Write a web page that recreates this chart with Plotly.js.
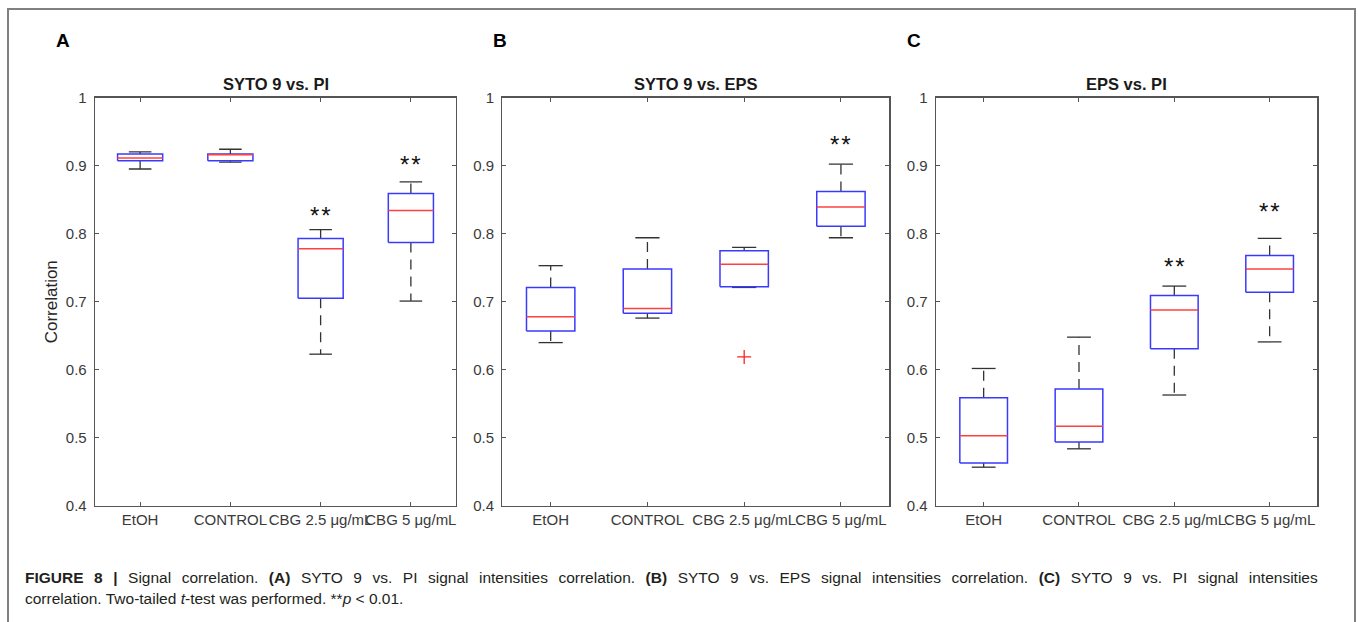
<!DOCTYPE html>
<html>
<head>
<meta charset="utf-8">
<script src="https://cdn.plot.ly/plotly-3.0.1.min.js"></script>
<style>html,body{margin:0;padding:0;background:#fff;}#chart{width:1358px;height:622px;}</style>
</head>
<body>
<div id="chart"></div>
<script>
// ---- Data ----
const categories = ['EtOH', 'CONTROL', 'CBG 2.5 μg/mL', 'CBG 5 μg/mL'];
const yTickVals = [0.4, 0.5, 0.6, 0.7, 0.8, 0.9, 1];

const panelTitles = ['SYTO 9 vs. PI', 'SYTO 9 vs. EPS', 'EPS vs. PI'];
const panelLetters = ['A', 'B', 'C'];

// Panel A: SYTO 9 vs. PI
const A_lower = [0.895, 0.905, 0.623, 0.701];
const A_q1    = [0.907, 0.907, 0.705, 0.787];
const A_med   = [0.911, 0.916, 0.778, 0.834];
const A_q3    = [0.917, 0.917, 0.793, 0.859];
const A_upper = [0.920, 0.924, 0.806, 0.876];
const A_sigY  = [null, null, 0.831, 0.905];   // "**" label level
const A_outX  = [];
const A_outY  = [];

// Panel B: SYTO 9 vs. EPS
const B_lower = [0.640, 0.676, 0.721, 0.794];
const B_q1    = [0.657, 0.683, 0.722, 0.811];
const B_med   = [0.678, 0.690, 0.755, 0.839];
const B_q3    = [0.721, 0.748, 0.775, 0.862];
const B_upper = [0.753, 0.794, 0.780, 0.902];
const B_sigY  = [null, null, null, 0.935];
const B_outX  = ['CBG 2.5 μg/mL'];
const B_outY  = [0.619];

// Panel C: EPS vs. PI
const C_lower = [0.457, 0.484, 0.563, 0.641];
const C_q1    = [0.463, 0.494, 0.631, 0.714];
const C_med   = [0.503, 0.517, 0.688, 0.748];
const C_q3    = [0.559, 0.572, 0.709, 0.768];
const C_upper = [0.602, 0.648, 0.723, 0.793];
const C_sigY  = [null, null, 0.755, 0.836];
const C_outX  = [];
const C_outY  = [];

const captionWords1 = ['<b>FIGURE', '8', '|</b>', 'Signal', 'correlation.', '<b>(A)</b>', 'SYTO', '9', 'vs.', 'PI', 'signal', 'intensities', 'correlation.', '<b>(B)</b>', 'SYTO', '9', 'vs.', 'EPS', 'signal', 'intensities', 'correlation.', '<b>(C)</b>', 'SYTO', '9', 'vs.', 'PI', 'signal', 'intensities'];
const captionLine2 = 'correlation. Two-tailed <i>t</i>-test was performed. **<i>p</i> &lt; 0.01.';

// ---- Build figure ----
const W = 1358, H = 622;
const FONT = 'Liberation Sans, Arial, Helvetica, sans-serif';
const BOX_HALF = 0.25, CAP_HALF = 0.125;

const panels = [
  {lower: A_lower, q1: A_q1, med: A_med, q3: A_q3, upper: A_upper, sigY: A_sigY, outX: A_outX, outY: A_outY},
  {lower: B_lower, q1: B_q1, med: B_med, q3: B_q3, upper: B_upper, sigY: B_sigY, outX: B_outX, outY: B_outY},
  {lower: C_lower, q1: C_q1, med: C_med, q3: C_q3, upper: C_upper, sigY: C_sigY, outX: C_outX, outY: C_outY}
];

// pixel layout of plot areas
const pxX = [[95, 456], [502.3, 889.3], [936, 1317.3]];
const pxTop = 97.5, pxBottom = 506;
const yDom = [1 - pxBottom / H, 1 - pxTop / H];

const traces = [];
const layout = {
  width: W, height: H, autosize: false,
  margin: {l: 0, r: 0, t: 0, b: 0},
  paper_bgcolor: '#ffffff', plot_bgcolor: '#ffffff',
  showlegend: false,
  font: {family: FONT, color: '#333333'},
  annotations: [], shapes: []
};

panels.forEach((p, k) => {
  const xa = 'x' + (k === 0 ? '' : k + 1);
  const ya = 'y' + (k === 0 ? '' : k + 1);
  const wX = [], wY = [], cX = [], cY = [], bX = [], bY = [], mX = [], mY = [];
  categories.forEach((c, i) => {
    const x = i + 1;
    wX.push(x, x, null, x, x, null);
    wY.push(p.q3[i], p.upper[i], null, p.q1[i], p.lower[i], null);
    cX.push(x - CAP_HALF, x + CAP_HALF, null, x - CAP_HALF, x + CAP_HALF, null);
    cY.push(p.upper[i], p.upper[i], null, p.lower[i], p.lower[i], null);
    bX.push(x - BOX_HALF, x + BOX_HALF, x + BOX_HALF, x - BOX_HALF, x - BOX_HALF, null);
    bY.push(p.q1[i], p.q1[i], p.q3[i], p.q3[i], p.q1[i], null);
    mX.push(x - BOX_HALF, x + BOX_HALF, null);
    mY.push(p.med[i], p.med[i], null);
    if (p.sigY[i] !== null) {
      layout.annotations.push({
        xref: xa, yref: ya, x: x, y: p.sigY[i], text: '*\u200A*', showarrow: false,
        yanchor: 'middle', yshift: -2.5, font: {family: FONT, size: 24, color: '#111'}
      });
    }
  });
  traces.push({type: 'scatter', mode: 'lines', x: wX, y: wY, xaxis: xa, yaxis: ya,
    line: {color: '#333333', width: 1.3, dash: '10px,7px'}, hoverinfo: 'skip'});
  traces.push({type: 'scatter', mode: 'lines', x: cX, y: cY, xaxis: xa, yaxis: ya,
    line: {color: '#333333', width: 1.3}, hoverinfo: 'skip'});
  traces.push({type: 'scatter', mode: 'lines', x: bX, y: bY, xaxis: xa, yaxis: ya,
    line: {color: '#3a3aff', width: 1.5}, hoverinfo: 'skip'});
  traces.push({type: 'scatter', mode: 'lines', x: mX, y: mY, xaxis: xa, yaxis: ya,
    line: {color: '#ff4040', width: 1.5}, hoverinfo: 'skip'});
  if (p.outX.length) {
    traces.push({type: 'scatter', mode: 'markers',
      x: p.outX.map(c => categories.indexOf(c) + 1), y: p.outY, xaxis: xa, yaxis: ya,
      marker: {symbol: 'cross-thin-open', size: 10, color: '#ff2020', line: {color: '#ff2020', width: 1.3}},
      hoverinfo: 'skip'});
  }

  const xKey = 'xaxis' + (k === 0 ? '' : k + 1);
  const yKey = 'yaxis' + (k === 0 ? '' : k + 1);
  layout[xKey] = {
    domain: [pxX[k][0] / W, pxX[k][1] / W], anchor: ya,
    range: [0.5, 4.5], tickmode: 'array', tickvals: categories.map((c, i) => i + 1), ticktext: categories,
    tickangle: 0, ticks: 'inside', ticklen: 4, tickwidth: 1, tickcolor: '#555555',
    showline: true, linecolor: '#555555', linewidth: 1.3, mirror: 'ticks',
    showgrid: false, zeroline: false, fixedrange: true,
    tickfont: {family: FONT, size: 15, color: '#3a3a3a'}
  };
  layout[yKey] = {
    domain: yDom, anchor: xa,
    range: [0.4, 1], tickmode: 'array', tickvals: yTickVals, ticktext: yTickVals.map(v => String(v)),
    ticks: 'inside', ticklen: 4, tickwidth: 1, tickcolor: '#555555',
    showline: true, linecolor: '#555555', linewidth: 1.3, mirror: 'ticks',
    showgrid: false, zeroline: false, fixedrange: true, ticklabelstandoff: 4,
    tickfont: {family: FONT, size: 15, color: '#3a3a3a'}
  };
  if (k === 0) {
    layout[yKey].title = {text: 'Correlation', standoff: 4, font: {family: FONT, size: 17, color: '#262626'}};
  }
  // panel title
  layout.annotations.push({
    xref: xa + ' domain', yref: 'paper', x: 0.5, y: 1 - 83.5 / H, xanchor: 'center', yanchor: 'middle',
    text: '<b>' + panelTitles[k] + '</b>', showarrow: false, font: {family: FONT, size: 16.5, color: '#1a1a1a'}
  });
});

// panel letters
const letterX = [62.5, 500, 914];
panelLetters.forEach((L, k) => {
  layout.annotations.push({
    xref: 'paper', yref: 'paper', x: letterX[k] / W, y: 1 - 40 / H, xanchor: 'center', yanchor: 'middle',
    text: '<b>' + L + '</b>', showarrow: false, font: {family: FONT, size: 19, color: '#000'}
  });
});

// caption (first line is justified in the original -> widened word spacing)
layout.annotations.push({
  xref: 'paper', yref: 'paper', x: 23 / W, y: 1 - 577 / H, xanchor: 'left', yanchor: 'middle', align: 'left',
  text: captionWords1.join(' \u2009\u2009'), showarrow: false, font: {family: FONT, size: 15.5, color: '#231f20'}
});
layout.annotations.push({
  xref: 'paper', yref: 'paper', x: 23 / W, y: 1 - 598 / H, xanchor: 'left', yanchor: 'middle', align: 'left',
  text: captionLine2, showarrow: false, font: {family: FONT, size: 15.5, color: '#231f20'}
});

// outer frame (top, left, right)
layout.shapes.push({type: 'path', xref: 'paper', yref: 'paper',
  path: 'M ' + (8 / W) + ' -0.05 L ' + (8 / W) + ' ' + (1 - 9 / H) + ' L ' + (1355 / W) + ' ' + (1 - 9 / H) + ' L ' + (1355 / W) + ' -0.05',
  line: {color: '#808080', width: 2}});

Plotly.newPlot('chart', traces, layout, {displayModeBar: false, staticPlot: true});
</script>
</body>
</html>
